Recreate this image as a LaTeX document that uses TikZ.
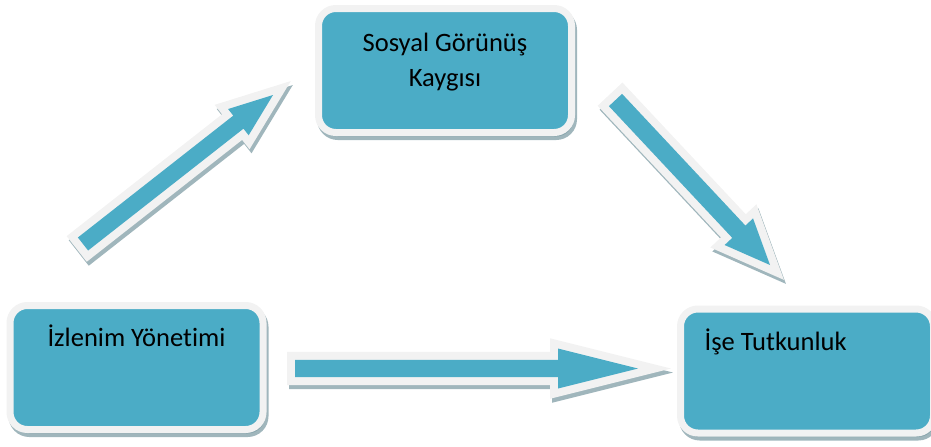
\documentclass[tikz,border=0pt]{standalone}
\usepackage{fontspec}
\setmainfont{Carlito}[Ligatures=NoCommon, RawFeature=-liga]
\usetikzlibrary{calc}

\definecolor{boxteal}{RGB}{75,172,198}
\definecolor{rimgray}{RGB}{242,242,242}
\definecolor{shadegray}{RGB}{128,158,166}

\begin{document}
\begin{tikzpicture}[
  x=0.75pt, y=-0.75pt,
  box/.style = {
    shape=rectangle,
    rounded corners=13pt,
    draw=rimgray,
    line width=5.25pt,
    fill=boxteal,
    minimum width=189.75pt,
    minimum height=93pt,
    inner sep=0pt,
    preaction={draw=shadegray, fill=shadegray, line width=5.25pt, opacity=0.75,
      transform canvas={shift={(1.5pt,-3pt)}}}
  },
  txt/.style = {
    font=\fontsize{19.9pt}{26.25pt}\selectfont,
    inner sep=0pt,
    align=center
  },
  arrowbody/.style = {
    fill=boxteal,
    preaction={draw=shadegray, fill=shadegray, line width=12pt, opacity=0.75,
      transform canvas={shift={(1.5pt,-3pt)}}},
    preaction={draw=rimgray, fill=rimgray, line width=12pt}
  },
  blockarrow/.style n args = {3}{
    to path={
      ($(\tikztostart)!#1!90:(\tikztotarget)$)
      -- ($(\tikztotarget)!#3!(\tikztostart)!#1!90:(\tikztotarget)$)
      -- ($(\tikztotarget)!#3!(\tikztostart)!#2!90:(\tikztotarget)$)
      -- (\tikztotarget)
      -- ($(\tikztotarget)!#3!(\tikztostart)!#2!-90:(\tikztotarget)$)
      -- ($(\tikztotarget)!#3!(\tikztostart)!#1!-90:(\tikztotarget)$)
      -- ($(\tikztostart)!#1!-90:(\tikztotarget)$)
      -- cycle
    }
  }
]
\useasboundingbox (0,0) rectangle (931,446);

% boxes
\node[box] (sgk) at (445,70.5) {};
\node[box] (imp) at (136.5,367.5) {};
\node[box] (tut) at (807,371) {};

\node[txt] (sgk-text) at ([yshift=6pt]sgk.center) {Sosyal Görünüş\\Kaygısı};
\node[txt, anchor=base] (imp-text) at ([yshift=-33.4pt]imp.north) {İzlenim Yönetimi};
\node[txt, anchor=base west] (tut-text) at ([xshift=20.5pt, yshift=-33.75pt]tut.north west) {İşe Tutkunluk};

% arrow ends
\coordinate (imp-up) at (83,244);
\coordinate (sgk-in) at (273,95);
\coordinate (sgk-out) at (615.5,100);
\coordinate (tut-top) at (770,265);
\coordinate (imp-right) at (295,368.5);
\coordinate (tut-left) at (638,368.5);

\path[arrowbody] (imp-up) to[blockarrow={6.2pt}{12.5pt}{33pt}] (sgk-in);
\path[arrowbody] (sgk-out) to[blockarrow={6.75pt}{14.6pt}{34.2pt}] (tut-top);
\path[arrowbody] (imp-right) to[blockarrow={6.4pt}{15pt}{60pt}] (tut-left);

\end{tikzpicture}
\end{document}
